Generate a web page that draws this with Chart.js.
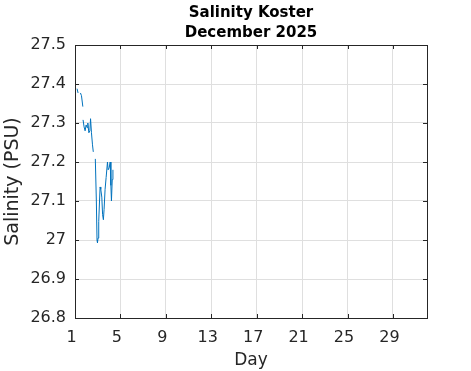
<!DOCTYPE html>
<html>
<head>
<meta charset="utf-8">
<script src="https://cdn.jsdelivr.net/npm/chart.js@4"></script>
<style>
  html, body { margin: 0; padding: 0; background: #ffffff; }
  #wrap { width: 471px; height: 371px; position: relative; }
</style>
</head>
<body>
<div id="wrap"><canvas id="c" width="471" height="371"></canvas></div>
<script>
// ---- data ----
const titleLines = ["Salinity Koster", "December 2025"];
const xLabel = "Day";
const yLabel = "Salinity (PSU)";
const xTicks = [1, 5, 9, 13, 17, 21, 25, 29];
const yTicks = [26.8, 26.9, 27.0, 27.1, 27.2, 27.3, 27.4, 27.5];
const days = [1.18, 1.27, 1.37, 1.48, 1.57, 1.69, 1.70, 1.71, 1.80, 1.89, 1.98, 2.07, 2.13, 2.22, 2.31, 2.37, 2.45, 2.54, 2.61, 2.70,
              2.79, 2.88, 2.94, 2.98, 3.03, 3.09, 3.16, 3.21, 3.27, 3.36, 3.43, 3.50, 3.56, 3.65, 3.74, 3.86, 3.92, 4.01, 4.10, 4.16, 4.21, 4.28, 4.34];
const salinity = [27.388, 27.377, null, 27.377, 27.370, 27.342, null, 27.308, 27.290, 27.280, 27.295, 27.288, 27.300, 27.275, 27.280, 27.311, 27.275, 27.244, 27.226, null,
                  27.208, 27.100, 27.000, 26.993, 27.005, 27.047, 27.100, 27.136, 27.130, 27.110, 27.065, 27.052, 27.078, 27.130, 27.160, 27.200, 27.180, 27.185, 27.200, 27.140, 27.100, 27.155, 27.180];

const FONT = "'DejaVu Sans', sans-serif";
const AX = '#262626';

const points = days.map((d, i) => ({ x: d, y: salinity[i] }));

const boxPlugin = {
  id: 'boxPlugin',
  afterDraw(chart) {
    const ctx = chart.ctx;
    const a = chart.chartArea;
    const xs = chart.scales.x, ys = chart.scales.y;
    ctx.save();
    ctx.strokeStyle = AX;
    ctx.lineWidth = 1;
    // inner tick marks
    ctx.beginPath();
    const tl = 4;
    xTicks.forEach(v => {
      const px = Math.round(xs.getPixelForValue(v)) + 0.5;
      ctx.moveTo(px, a.bottom); ctx.lineTo(px, a.bottom - tl);
      ctx.moveTo(px, a.top); ctx.lineTo(px, a.top + tl);
    });
    yTicks.forEach(v => {
      const py = Math.round(ys.getPixelForValue(v)) + 0.5;
      ctx.moveTo(a.left, py); ctx.lineTo(a.left + tl, py);
      ctx.moveTo(a.right, py); ctx.lineTo(a.right - tl, py);
    });
    ctx.stroke();
    // box
    ctx.strokeRect(Math.round(a.left) + 0.5, Math.round(a.top) + 0.5, Math.round(a.right - a.left), Math.round(a.bottom - a.top));
    // title
    ctx.fillStyle = '#000000';
    ctx.font = "bold 15px " + FONT;
    ctx.textAlign = 'center';
    ctx.textBaseline = 'alphabetic';
    const cx = (a.left + a.right) / 2;
    ctx.fillText(titleLines[0], cx, 17);
    ctx.fillText(titleLines[1], cx, 37);
    ctx.restore();
  }
};

new Chart(document.getElementById('c'), {
  type: 'scatter',
  data: {
    datasets: [{
      data: points,
      showLine: true,
      spanGaps: false,
      borderColor: '#0072BD',
      borderWidth: 1,
      pointRadius: 0,
      pointHoverRadius: 0,
      tension: 0
    }]
  },
  options: {
    responsive: false,
    animation: false,
    events: [],
    layout: { padding: { left: 0, right: 44, top: 45, bottom: 0 } },
    plugins: { legend: { display: false }, tooltip: { enabled: false }, title: { display: false } },
    scales: {
      x: {
        type: 'linear',
        min: 1, max: 32,
        afterBuildTicks: s => { s.ticks = xTicks.map(v => ({ value: v })); },
        afterFit: s => { s.height = 53; },
        grid: { color: '#dfdfdf', drawTicks: false },
        border: { display: true, color: AX, width: 1 },
        ticks: { color: AX, font: { family: FONT, size: 16 }, padding: 10, labelOffset: -3.5, maxRotation: 0, autoSkip: false,
                 callback: v => String(v) },
        title: { display: true, text: xLabel, color: AX, font: { family: FONT, size: 17 }, padding: { top: 2, bottom: 0 } }
      },
      y: {
        type: 'linear',
        min: 26.8, max: 27.5,
        afterBuildTicks: s => { s.ticks = yTicks.map(v => ({ value: v })); },
        afterFit: s => { s.width = 75; },
        grid: { color: '#dfdfdf', drawTicks: false },
        border: { display: true, color: AX, width: 1 },
        ticks: { color: AX, font: { family: FONT, size: 16 }, padding: 9, autoSkip: false,
                 callback: v => String(Number(v.toFixed(1))) },
        title: { display: true, text: yLabel, color: AX, font: { family: FONT, size: 19 }, padding: { top: 2, bottom: 0 } }
      }
    }
  },
  plugins: [boxPlugin]
});
</script>
</body>
</html>
